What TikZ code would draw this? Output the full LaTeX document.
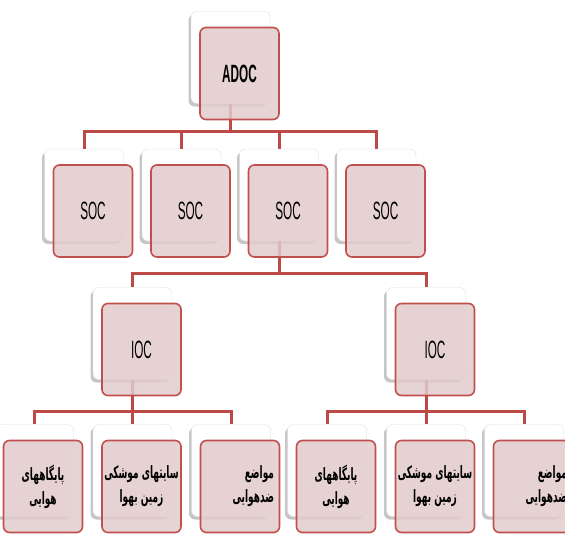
\documentclass[tikz,border=0pt]{standalone}
\usepackage{fontspec}
\usepackage{xcolor}
\usetikzlibrary{shadows}
\TeXXeTstate=1
\newfontfamily\boxfont{Liberation Sans}[FakeStretch=0.47]
\newfontfamily\arabicfont[Script=Arabic,FakeStretch=0.53]{DejaVu Sans}
\definecolor{boxred}{RGB}{192,80,77}
\definecolor{boxpink}{RGB}{226,203,203}
\definecolor{linkred}{RGB}{188,74,71}
\tikzset{
  backbox/.style={draw=gray!25, fill=white, rounded corners=6pt,
    minimum width=79pt, minimum height=92pt, inner sep=0pt,
    drop shadow={shadow xshift=-2.5pt, shadow yshift=-3pt, opacity=0.45, fill=gray}},
  frontbox/.style={draw=boxred, line width=1.6pt, fill=boxpink, fill opacity=0.85,
    text opacity=1, rounded corners=6pt, minimum width=79pt, minimum height=92pt,
    inner sep=0pt, font=\boxfont\fontsize{25}{27}\selectfont},
  leaftext/.style={font=\arabicfont\bfseries\fontsize{17}{24}\selectfont, align=center},
  link/.style={draw=linkred, line width=3pt}
}
\begin{document}
\begin{tikzpicture}[x=1pt,y=-1pt]
    \useasboundingbox (0,0) rectangle (565,535);
    \clip (0,0) rectangle (565,535);
    % back cards
    \node[backbox] (adocB) at (230.5,57.5) {};
    \foreach \n/\x in {1/84,2/181.5,3/279,4/376.5}
        \node[backbox] (socB\n) at (\x,195) {};
    \node[backbox] (iocB1) at (132.5,333.5) {};
    \node[backbox] (iocB2) at (426,333.5) {};
    \foreach \n/\x in {1/34,2/132.5,3/231,4/327,5/426,6/524}
        \node[backbox] (leafB\n) at (\x,470.5) {};
    % connectors
    \coordinate (bar1) at (230.5,131);
    \coordinate (bar2) at (279,273);
    \coordinate (bar3) at (132.5,411);
    \coordinate (bar4) at (426,411);
    \foreach \n in {1,...,4}
        \draw[link] (adocB.south) -- (bar1) -| (socB\n.north);
    \foreach \n in {1,2}
        \draw[link] (socB3.south) -- (bar2) -| (iocB\n.north);
    \foreach \n in {1,2,3}
        \draw[link] (iocB1.south) -- (bar3) -| (leafB\n.north);
    \foreach \n in {4,5,6}
        \draw[link] (iocB2.south) -- (bar4) -| (leafB\n.north);
    % front cards
    \node[frontbox] (adoc) at ([shift={(9,16)}]adocB) {\bfseries ADOC};
    \foreach \n in {1,...,4}
        \node[frontbox] (soc\n) at ([shift={(9,16)}]socB\n) {SOC};
    \foreach \n in {1,2}
        \node[frontbox] (ioc\n) at ([shift={(9,16)}]iocB\n) {IOC};
    \foreach \m in {1,4}{
        \node[frontbox,leaftext] (leaf\m) at ([shift={(9,16)}]leafB\m)
            {\beginR پایگاههای\endR\\\beginR هوایی\endR};
    }
    \foreach \m in {2,5}{
        \node[frontbox,leaftext] (leaf\m) at ([shift={(9,16)}]leafB\m)
            {\beginR سایتهای موشکی\endR\\\beginR زمین بهوا\endR};
    }
    \foreach \m in {3,6}{
        \node[frontbox,leaftext,text width=68pt,align=right] (leaf\m) at ([shift={(9,16)}]leafB\m)
            {\beginR مواضع\endR\\\beginR ضدهوایی\endR};
    }
\end{tikzpicture}
\end{document}
